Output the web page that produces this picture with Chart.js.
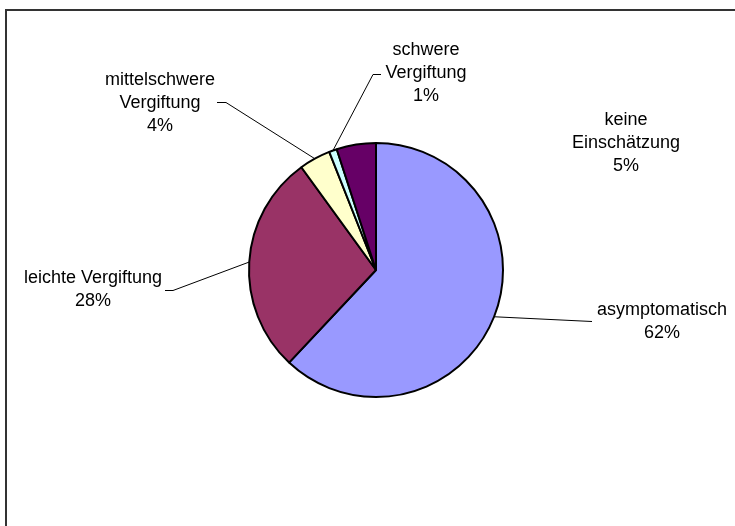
<!DOCTYPE html>
<html lang="de">
<head>
    <meta charset="UTF-8">
    <title>Schweregrad der Vergiftung</title>
    <script src="https://cdn.jsdelivr.net/npm/chart.js"></script>
    <style>
        body {
            margin: 0;
            padding: 0;
            background-color: #fff;
        }
        #diagramm {
            display: block;
        }
    </style>
</head>
<body>

<canvas id="diagramm" width="735" height="526"></canvas>

<script>
// Kategorien und Anteile (Prozent)
const kategorien = [
    ["asymptomatisch"],
    ["leichte Vergiftung"],
    ["mittelschwere", "Vergiftung"],
    ["schwere", "Vergiftung"],
    ["keine", "Einschätzung"]
];
const anteile = [62, 28, 4, 1, 5];
const farben = ["#9999FF", "#993366", "#FFFFCC", "#CCFFFF", "#660066"];

// Beschriftungen: Mitte x, y der ersten Zeile, Knick und Ende der Führungslinie
const beschriftung = [
    { x: 662, y: 310, knick: [592, 321], ende: [592, 321] },
    { x: 93,  y: 278, knick: [173, 290], ende: [165, 290] },
    { x: 160, y: 80,  knick: [226, 102], ende: [217, 102] },
    { x: 426, y: 50,  knick: [373, 74],  ende: [381, 74] },
    { x: 626, y: 120, knick: null, ende: null }
];
const zeilenhoehe = 23;

const beschriftungPlugin = {
    id: 'beschriftung',
    afterDraw(chart) {
        const ctx = chart.ctx;
        const meta = chart.getDatasetMeta(0);
        const summe = anteile.reduce((a, b) => a + b, 0);

        ctx.save();

        // Rahmen des Diagrammbereichs
        ctx.strokeStyle = '#333';
        ctx.lineWidth = 2;
        ctx.beginPath();
        ctx.moveTo(6, chart.height);
        ctx.lineTo(6, 10);
        ctx.lineTo(chart.width, 10);
        ctx.stroke();

        // Führungslinien
        ctx.strokeStyle = '#000';
        ctx.lineWidth = 1;
        meta.data.forEach((arc, i) => {
            const b = beschriftung[i];
            if (!b.knick) return;
            const mitte = (arc.startAngle + arc.endAngle) / 2;
            const px = arc.x + arc.outerRadius * Math.cos(mitte);
            const py = arc.y + arc.outerRadius * Math.sin(mitte);
            ctx.beginPath();
            ctx.moveTo(px, py);
            ctx.lineTo(b.knick[0], b.knick[1] + 0.5);
            ctx.lineTo(b.ende[0], b.ende[1] + 0.5);
            ctx.stroke();
        });

        // Texte
        ctx.fillStyle = '#000';
        ctx.font = '18px "Liberation Sans", Arial, sans-serif';
        ctx.textAlign = 'center';
        ctx.textBaseline = 'middle';
        kategorien.forEach((zeilen, i) => {
            const b = beschriftung[i];
            const prozent = Math.round(anteile[i] / summe * 100) + '%';
            const alle = zeilen.concat([prozent]);
            alle.forEach((t, j) => {
                ctx.fillText(t, b.x, b.y + j * zeilenhoehe);
            });
        });

        ctx.restore();
    }
};

const ctx = document.getElementById('diagramm').getContext('2d');
const diagramm = new Chart(ctx, {
    type: 'pie',
    data: {
        labels: kategorien.map(k => k.join(' ')),
        datasets: [{
            data: anteile,
            backgroundColor: farben,
            borderColor: '#000',
            borderWidth: 2
        }]
    },
    options: {
        responsive: false,
        animation: false,
        layout: {
            padding: { left: 248, right: 231, top: 142, bottom: 128 }
        },
        plugins: {
            legend: { display: false },
            tooltip: { enabled: false }
        }
    },
    plugins: [beschriftungPlugin]
});
</script>
</body>
</html>
